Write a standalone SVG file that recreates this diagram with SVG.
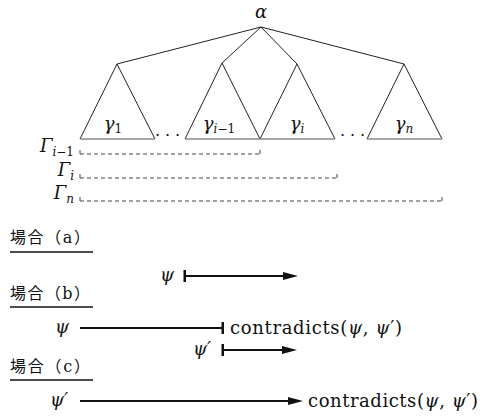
<svg xmlns="http://www.w3.org/2000/svg" width="482" height="418" viewBox="0 0 482 418">
<style>
.ln{stroke:#222;stroke-width:1;fill:none}
.base{stroke:#888;stroke-width:1.5;fill:none}
.dash{stroke:#444;stroke-width:1;stroke-dasharray:4 3;fill:none}
.tick{stroke:#444;stroke-width:1;fill:none}
.m{font-family:'DejaVu Serif',serif;font-style:italic;font-size:18px;fill:#111}
.sub{font-style:normal;font-size:12px}
.subi{font-size:12px}
.r{font-family:'DejaVu Serif',serif;font-size:18px;fill:#111}
.jp{font-family:'DejaVu Serif','Noto Sans CJK JP',serif;font-size:16px;fill:#111}
.ul{stroke:#111;stroke-width:1.3}
.arr{stroke:#111;stroke-width:2;fill:none}
.dots{font-family:'DejaVu Serif',serif;font-size:16px;fill:#111}
</style>
<defs>
<marker id="head" markerUnits="userSpaceOnUse" markerWidth="16" markerHeight="10" viewBox="0 0 16 10" refX="11" refY="5" orient="auto">
<path d="M0,1 L15,5 L0,9 Z" fill="#111"/>
</marker>
<marker id="bar" markerUnits="userSpaceOnUse" markerWidth="4" markerHeight="12" viewBox="0 0 4 12" refX="2" refY="6" orient="auto">
<rect x="0.5" y="0" width="2.5" height="12" fill="#111"/>
</marker>
</defs>

<g id="tree">
<text class="m" x="261" y="18" text-anchor="middle" font-size="20">α</text>
<line class="ln" x1="261" y1="27" x2="117" y2="64"/>
<line class="ln" x1="261" y1="27" x2="222" y2="63"/>
<line class="ln" x1="261" y1="27" x2="297" y2="64"/>
<line class="ln" x1="261" y1="27" x2="404" y2="64"/>
</g>

<g id="t1">
<path class="ln" d="M80,139 L117,64 L155,139"/>
<line class="base" x1="80" y1="139" x2="155" y2="139"/>
<text class="m" x="113" y="130" text-anchor="middle">γ<tspan class="sub" dy="3">1</tspan></text>
</g>
<g id="t2">
<path class="ln" d="M185,139 L222,63 L260,139"/>
<line class="base" x1="185" y1="139" x2="260" y2="139"/>
<text class="m" x="219" y="130" text-anchor="middle">γ<tspan class="subi" dy="3">i</tspan><tspan class="sub">−1</tspan></text>
</g>
<g id="t3">
<path class="ln" d="M260,139 L297,64 L335,139"/>
<line class="base" x1="260" y1="139" x2="335" y2="139"/>
<text class="m" x="297" y="130" text-anchor="middle">γ<tspan class="subi" dy="3">i</tspan></text>
</g>
<g id="t4">
<path class="ln" d="M367,139 L404,64 L442,139"/>
<line class="base" x1="367" y1="139" x2="442" y2="139"/>
<text class="m" x="404" y="130" text-anchor="middle">γ<tspan class="subi" dy="3">n</tspan></text>
</g>
<text class="dots" x="155" y="136" textLength="25" lengthAdjust="spacing">. . .</text>
<text class="dots" x="340" y="136" textLength="25" lengthAdjust="spacing">. . .</text>

<g id="gamma">
<text class="m" x="74" y="152" text-anchor="end">Γ<tspan class="subi" dy="4">i</tspan><tspan class="sub">−1</tspan></text>
<path class="tick" d="M80,150 V154 M260,150 V154"/>
<line class="dash" x1="80" y1="154" x2="260" y2="154"/>
<text class="m" x="74" y="176" text-anchor="end">Γ<tspan class="subi" dy="4">i</tspan></text>
<path class="tick" d="M80,174 V178 M337,174 V178"/>
<line class="dash" x1="80" y1="178" x2="337" y2="178"/>
<text class="m" x="74" y="199" text-anchor="end">Γ<tspan class="subi" dy="4">n</tspan></text>
<path class="tick" d="M80,197 V201 M442,197 V201"/>
<line class="dash" x1="80" y1="201" x2="442" y2="201"/>
</g>

<g id="caseA">
<text class="jp" x="10" y="243" textLength="80" lengthAdjust="spacing">場合（a）</text>
<line class="ul" x1="10" y1="252" x2="93" y2="252"/>
</g>
<g id="caseB">
<text class="jp" x="10" y="299" textLength="80" lengthAdjust="spacing">場合（b）</text>
<line class="ul" x1="10" y1="307" x2="93" y2="307"/>
</g>
<g id="caseC">
<text class="jp" x="10" y="372" textLength="80" lengthAdjust="spacing">場合（c）</text>
<line class="ul" x1="10" y1="380" x2="93" y2="380"/>
</g>

<g id="labels">
<text class="m" x="160" y="281">ψ</text>
<text class="m" x="55" y="333">ψ</text>
<text class="r" x="230" y="334" textLength="172" lengthAdjust="spacing">contradicts(<tspan font-style="italic">ψ</tspan>, <tspan font-style="italic">ψ</tspan>′)</text>
<text class="m" x="193" y="355">ψ′</text>
<text class="m" x="50" y="406">ψ′</text>
<text class="r" x="308" y="407" textLength="170" lengthAdjust="spacing">contradicts(<tspan font-style="italic">ψ</tspan>, <tspan font-style="italic">ψ</tspan>′)</text>
</g>

<g id="connectors">
<line class="arr" x1="185" y1="276" x2="294" y2="276" marker-start="url(#bar)" marker-end="url(#head)"/>
<line class="arr" x1="80" y1="328" x2="223" y2="328" marker-end="url(#bar)"/>
<line class="arr" x1="223" y1="350" x2="293" y2="350" marker-start="url(#bar)" marker-end="url(#head)"/>
<line class="arr" x1="80" y1="401" x2="299" y2="401" marker-end="url(#head)"/>
</g>
</svg>
